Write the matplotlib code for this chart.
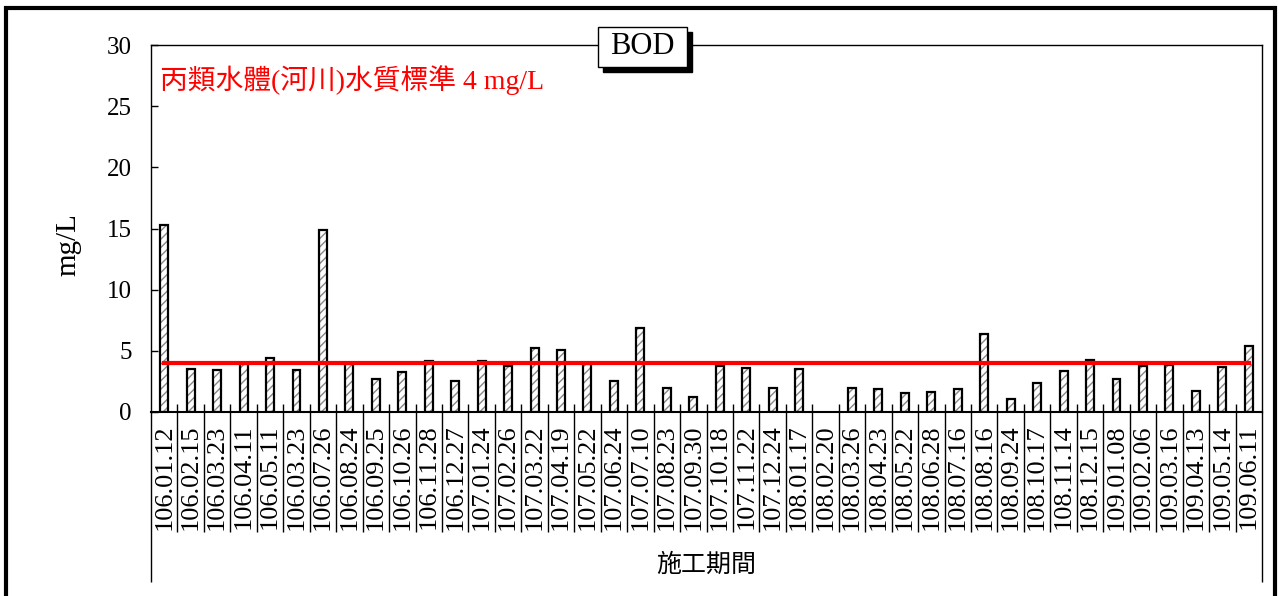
import numpy as np
import matplotlib
matplotlib.use("Agg")
import matplotlib.pyplot as plt
from matplotlib.patches import Rectangle

# 採樣日期 (民國年.月.日)
dates = ["106.01.12", "106.02.15", "106.03.23", "106.04.11", "106.05.11", "106.03.23",
         "106.07.26", "106.08.24", "106.09.25", "106.10.26", "106.11.28", "106.12.27",
         "107.01.24", "107.02.26", "107.03.22", "107.04.19", "107.05.22", "107.06.24",
         "107.07.10", "107.08.23", "107.09.30", "107.10.18", "107.11.22", "107.12.24",
         "108.01.17", "108.02.20", "108.03.26", "108.04.23", "108.05.22", "108.06.28",
         "108.07.16", "108.08.16", "108.09.24", "108.10.17", "108.11.14", "108.12.15",
         "109.01.08", "109.02.06", "109.03.16", "109.04.13", "109.05.14", "109.06.11"]

# BOD (mg/L), 108.02.20 無資料
bod = [15.3, 3.5, 3.4, 3.9, 4.4, 3.4,
       14.9, 3.9, 2.7, 3.3, 4.2, 2.5,
       4.2, 3.8, 5.2, 5.1, 3.9, 2.5,
       6.9, 2.0, 1.2, 3.8, 3.6, 2.0,
       3.5, np.nan, 2.0, 1.9, 1.55, 1.65,
       1.9, 6.4, 1.05, 2.4, 3.35, 4.25,
       2.7, 3.75, 3.85, 1.7, 3.65, 5.4]

standard = 4  # 丙類水體標準
yticks = [0, 5, 10, 15, 20, 25, 30]

W, H = 1279, 596
serif = ["Liberation Serif", "Noto Sans CJK TC"]
cjk = ["Noto Sans CJK TC", "Liberation Serif"]

fig = plt.figure(figsize=(W / 100, H / 100), dpi=100)
ax = fig.add_axes([151 / W, 1 - 412 / H, (1262 - 151) / W, (412 - 45) / H])

x = np.arange(len(dates))
# 斜線填色 (灰色), 再畫黑色外框
ax.bar(x, bod, width=0.3, color="white", edgecolor="#888888", hatch="////", linewidth=0, zorder=2)
ax.bar(x, bod, width=0.3, fill=False, edgecolor="black", linewidth=1.6, zorder=3)

# 標準線
ax.plot([x[0], x[-1]], [standard, standard], color="red", linewidth=3, zorder=4)

ax.set_xlim(-0.5, len(dates) - 0.5)
ax.set_ylim(0, 30)
ax.set_yticks(yticks)
ax.set_yticklabels([str(v) for v in yticks], family=serif, fontsize=18)
ax.tick_params(axis="y", direction="in", length=5, width=1, pad=14)

ax.set_xticks(x)
ax.set_xticklabels(dates, rotation=90, family=serif, fontsize=19)
ax.tick_params(axis="x", length=0, pad=9)

for s in ax.spines.values():
    s.set_linewidth(1)
ax.spines["bottom"].set_linewidth(1.5)

# 類別分隔線
tr = ax.get_xaxis_transform()
edges = np.arange(len(dates) + 1) - 0.5
ax.vlines(edges[1:-1], -0.327, 0.022, color="black", linewidth=1, transform=tr, clip_on=False)
ax.vlines([edges[0], edges[-1]], -0.463, 0, color="black", linewidth=1, transform=tr, clip_on=False)

ax.set_ylabel("mg/L", family=serif, fontsize=21)
ax.yaxis.set_label_coords(-0.063, 0.455)
fig.text(706 / W, 1 - 565 / H, "施工期間", family=cjk, fontsize=18, ha="center", va="center")

ax.text(0.008, 0.905, "丙類水體(河川)水質標準 4 mg/L", transform=ax.transAxes,
        family=serif, fontsize=20, color="red", ha="left", va="center")

# 標題方框與陰影
fig.add_artist(Rectangle((603 / W, 1 - 72 / H), 89 / W, 40 / H, transform=fig.transFigure,
                         facecolor="black", edgecolor="black", zorder=5))
fig.add_artist(Rectangle((598 / W, 1 - 67 / H), 89 / W, 40 / H, transform=fig.transFigure,
                         facecolor="white", edgecolor="black", linewidth=1, zorder=6))
fig.text(642.5 / W, 1 - 47 / H, "BOD", family=serif, fontsize=22, ha="center", va="center", zorder=7)

# 外框
fig.add_artist(Rectangle((6 / W, -0.05), (1275 - 6) / W, 1.05 - 8 / H, transform=fig.transFigure,
                         fill=False, edgecolor="black", linewidth=3, zorder=8))

fig.savefig("out.png", dpi=100)
